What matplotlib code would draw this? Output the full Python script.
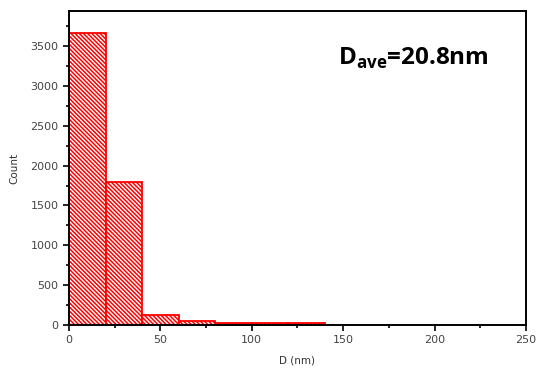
import matplotlib
matplotlib.use("Agg")
import matplotlib.pyplot as plt
from matplotlib.ticker import MultipleLocator

bin_edges = [0, 20, 40, 60, 80, 100, 120, 140]
counts = [3660, 1800, 125, 50, 25, 25, 22]
xticks = [0, 50, 100, 150, 200, 250]
yticks = [0, 500, 1000, 1500, 2000, 2500, 3000, 3500]
annotation = "D$_{\\mathbf{ave}}$=20.8nm"

plt.rcParams['hatch.linewidth'] = 1.1
plt.rcParams['hatch.color'] = '#ff2a2a'
plt.rcParams['mathtext.fontset'] = 'custom'
plt.rcParams['mathtext.rm'] = 'Open Sans'
plt.rcParams['mathtext.bf'] = 'Open Sans:bold'

fig = plt.figure(figsize=(5.36, 3.72), dpi=100)
ax = fig.add_axes([0.1287, 0.1263, 0.8526, 0.8441])

lefts = bin_edges[:-1]
widths = [bin_edges[i + 1] - bin_edges[i] for i in range(len(counts))]
ax.bar(lefts, counts, width=widths, align='edge', facecolor='white',
       edgecolor='red', hatch='\\' * 8, linewidth=1.3)

ax.set_xlim(0, 250)
ax.set_ylim(0, 3940)
ax.set_xticks(xticks)
ax.set_xticklabels([str(v) for v in xticks], family='DejaVu Sans')
ax.set_yticks(yticks)
ax.set_yticklabels([str(v) for v in yticks], family='DejaVu Sans')
ax.xaxis.set_minor_locator(MultipleLocator(25))
ax.yaxis.set_minor_locator(MultipleLocator(250))
ax.tick_params(which='major', direction='out', length=4, width=1.2, labelsize=8, labelcolor='#444444')
ax.tick_params(which='minor', direction='out', length=2.5, width=1.2)
for s in ax.spines.values():
    s.set_linewidth(1.4)

ax.set_xlabel("D (nm)", fontsize=7.5, color='#333333', labelpad=7, family='DejaVu Sans')
ax.set_ylabel("Count", fontsize=7.5, color='#333333', labelpad=8, family='DejaVu Sans')

ax.text(0.588, 0.85, annotation, transform=ax.transAxes, fontsize=17.5,
        fontweight='bold', family='Open Sans', va='center', ha='left')

fig.savefig("out.png", dpi=100)
